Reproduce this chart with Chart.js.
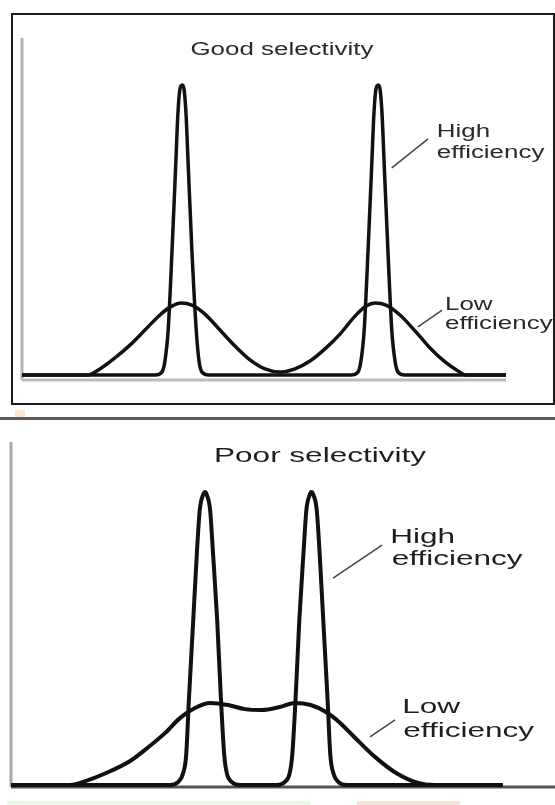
<!DOCTYPE html>
<html>
<head>
<meta charset="utf-8">
<script src="https://cdn.jsdelivr.net/npm/chart.js@4.4.1/dist/chart.umd.min.js"></script>
<style>
  body { margin: 0; background: #fff; width: 555px; height: 805px; position: relative; overflow: hidden; }
  .abs { position: absolute; }
  #box { left: 11px; top: 13px; width: 544px; height: 392px; box-sizing: border-box; border: 2px solid #1c1c1c; }
  #sep { left: 0; top: 417px; width: 555px; height: 3px; background: #5c5c5c; }
  #chart1 { left: 0; top: 0; }
  #chart2 { left: 0; top: 420px; }
</style>
</head>
<body>
<div id="box" class="abs"></div>
<div id="sep" class="abs"></div>
<div class="abs" style="left:15px;top:410px;width:10px;height:7px;background:#fde6cf"></div>
<div class="abs" style="left:7px;top:801px;width:303px;height:4px;background:#edf7e8"></div>
<div class="abs" style="left:357px;top:801px;width:103px;height:4px;background:#fbe4dd"></div>
<canvas id="chart1" class="abs" width="555" height="416"></canvas>
<canvas id="chart2" class="abs" width="555" height="385"></canvas>
<script>
// ---- Good selectivity (top)
const goodHighX = [0, 27.5, 28.9, 29.5, 30.2, 31.0, 31.8, 32.2, 32.6, 33.1, 33.5, 33.9, 34.3, 35.1, 36.0, 36.6, 37.2, 38.6,
  68.0, 69.4, 70.0, 70.7, 71.5, 72.3, 72.7, 73.1, 73.6, 74.0, 74.4, 74.8, 75.6, 76.4, 77.1, 77.7, 79.1, 100];
const goodHighY = [0, 0, 1, 4.5, 15.5, 43, 74, 89.7, 98.3, 100, 98.3, 89.7, 74, 43, 15.5, 4.5, 1, 0,
  0, 1, 4.5, 15.5, 43, 74, 89.7, 98.3, 100, 98.3, 89.7, 74, 43, 15.5, 4.5, 1, 0, 0];
const goodLowX = [0, 13.6, 16.1, 19.2, 22.3, 25.4, 28.5, 30.6, 32.9, 35.1, 37.8, 40.9, 44.0, 47.1, 50.2, 53.3,
  56.4, 59.5, 62.6, 65.7, 68.8, 71.1, 73.0, 75.2, 78.1, 81.2, 84.3, 87.4, 90.1, 91.7, 100];
const goodLowY = [0, 0, 2.1, 5.9, 10.3, 15.5, 20.7, 23.4, 24.8, 24.1, 21.0, 15.5, 10.0, 5.2, 2.1, 1.0,
  2.1, 4.8, 9.0, 14.1, 20.3, 23.8, 24.8, 24.1, 20.7, 15.2, 9.3, 4.5, 1.4, 0, 0];

// ---- Poor selectivity (bottom)
const poorHighX = [0, 29.2, 30.7, 31.6, 32.2, 32.7, 33.5, 34.2, 34.7, 35.3, 35.7, 36.0, 36.6, 37.1, 37.9, 38.6, 39.2, 39.7, 40.6, 42.1,
  48.8, 50.3, 51.2, 51.7, 52.3, 53.0, 53.8, 54.3, 54.9, 55.2, 55.6, 56.2, 56.7, 57.4, 58.2, 58.7, 59.3, 60.2, 61.7, 90.4];
const poorHighY = [0, 0, 1.0, 3.8, 10.2, 29.0, 56.3, 80.2, 93.9, 99.0, 100, 99.0, 93.9, 80.2, 56.3, 29.0, 10.2, 3.8, 1.0, 0,
  0, 1.0, 3.8, 10.2, 29.0, 56.3, 80.2, 93.9, 99.0, 100, 99.0, 93.9, 80.2, 56.3, 29.0, 10.2, 3.8, 1.0, 0, 0];
const poorLowX = [0, 10.8, 14.2, 17.5, 21.9, 25.5, 28.3, 31.1, 33.8, 36.6, 39.9, 43.0, 46.1, 49.4, 52.2, 55.1,
  57.9, 60.5, 63.1, 66.9, 70.8, 74.8, 77.9, 90.4];
const poorLowY = [0, 0, 1.7, 4.1, 8.2, 13.3, 17.7, 22.9, 26.3, 28.0, 27.3, 25.9, 25.6, 26.6, 28.0, 27.3,
  24.9, 21.2, 16.4, 9.6, 4.1, 0.7, 0, 0];

const toPoints = (xs, ys) => xs.map((x, i) => ({ x: x, y: ys[i] }));

// axes lines + labels with leader lines
const notesPlugin = {
  id: 'notes',
  beforeDatasetsDraw(chart, args, opts) {
    const ctx = chart.ctx;
    const a = chart.chartArea;
    ctx.save();
    ctx.strokeStyle = opts.yAxisColor;
    ctx.lineWidth = opts.axisWidth;
    ctx.beginPath();
    ctx.moveTo(a.left, a.top);
    ctx.lineTo(a.left, a.bottom);
    ctx.stroke();
    ctx.strokeStyle = opts.xAxisColor;
    ctx.beginPath();
    ctx.moveTo(a.left, a.bottom);
    ctx.lineTo(a.right, a.bottom);
    ctx.stroke();
    ctx.restore();
  },
  afterDraw(chart, args, opts) {
    const ctx = chart.ctx;
    const sx = chart.scales.x, sy = chart.scales.y;
    ctx.save();
    ctx.strokeStyle = '#444';
    ctx.lineWidth = 1.5;
    opts.leaders.forEach(l => {
      ctx.beginPath();
      ctx.moveTo(sx.getPixelForValue(l[0]), sy.getPixelForValue(l[1]));
      ctx.lineTo(sx.getPixelForValue(l[2]), sy.getPixelForValue(l[3]));
      ctx.stroke();
    });
    ctx.fillStyle = opts.color;
    ctx.font = opts.font;
    ctx.textBaseline = 'alphabetic';
    opts.texts.forEach(t => {
      ctx.save();
      ctx.translate(sx.getPixelForValue(t.x), sy.getPixelForValue(t.y));
      ctx.scale(opts.stretch, 1);
      ctx.textAlign = t.align || 'left';
      ctx.fillText(t.text, 0, 0);
      ctx.restore();
    });
    ctx.restore();
  }
};

const makeChart = (id, highPts, lowPts, yMin, yMax, pad, lineWidth, notes) => {
  const ctx = document.getElementById(id).getContext('2d');
  const line = {
    borderColor: '#111',
    borderWidth: lineWidth,
    pointRadius: 0,
    fill: false,
    cubicInterpolationMode: 'monotone',
  };
  return new Chart(ctx, {
    type: 'line',
    data: {
      datasets: [
        Object.assign({ label: 'High efficiency', data: highPts }, line),
        Object.assign({ label: 'Low efficiency', data: lowPts }, line),
      ]
    },
    options: {
      responsive: false,
      animation: false,
      layout: { padding: pad },
      plugins: {
        legend: { display: false },
        tooltip: { enabled: false },
        notes: notes,
      },
      scales: {
        x: { type: 'linear', min: 0, max: 100, display: false },
        y: { min: yMin, max: yMax, display: false },
      }
    },
    plugins: [notesPlugin]
  });
};

document.addEventListener('DOMContentLoaded', () => {
  makeChart('chart1', toPoints(goodHighX, goodHighY), toPoints(goodLowX, goodLowY), -1.724, 116.2,
    { left: 22, top: 38, right: 49, bottom: 36 }, 3.5,
    {
      yAxisColor: '#b4b4b4', xAxisColor: '#bcbcbc', axisWidth: 3,
      color: '#2a2a2a', font: '18px "Liberation Sans", Arial, sans-serif', stretch: 1.44,
      texts: [
        { text: 'Good selectivity', x: 53.7, y: 110.3, align: 'center' },
        { text: 'High', x: 85.7, y: 82.1 },
        { text: 'efficiency', x: 85.7, y: 74.8 },
        { text: 'Low', x: 87.4, y: 22.4 },
        { text: 'efficiency', x: 87.4, y: 15.9 },
      ],
      leaders: [[76.4, 71.4, 83.9, 81.4], [81.8, 16.6, 86.8, 22.4]],
    });

  makeChart('chart2', toPoints(poorHighX, poorHighY), toPoints(poorLowX, poorLowY), -0.68, 117.06,
    { left: 11, top: 22, right: 0, bottom: 18 }, 4,
    {
      yAxisColor: '#a8a8a8', xAxisColor: '#555', axisWidth: 3,
      color: '#1e1e1e', font: '21px "Liberation Sans", Arial, sans-serif', stretch: 1.5,
      texts: [
        { text: 'Poor selectivity', x: 56.8, y: 110.2, align: 'center' },
        { text: 'High', x: 69.7, y: 82.6 },
        { text: 'efficiency', x: 70.0, y: 75.1 },
        { text: 'Low', x: 71.9, y: 24.6 },
        { text: 'efficiency', x: 72.1, y: 16.4 },
      ],
      leaders: [[59.2, 70.6, 68.2, 81.9], [66.0, 16.4, 70.6, 22.2]],
    });
});
</script>
</body>
</html>
